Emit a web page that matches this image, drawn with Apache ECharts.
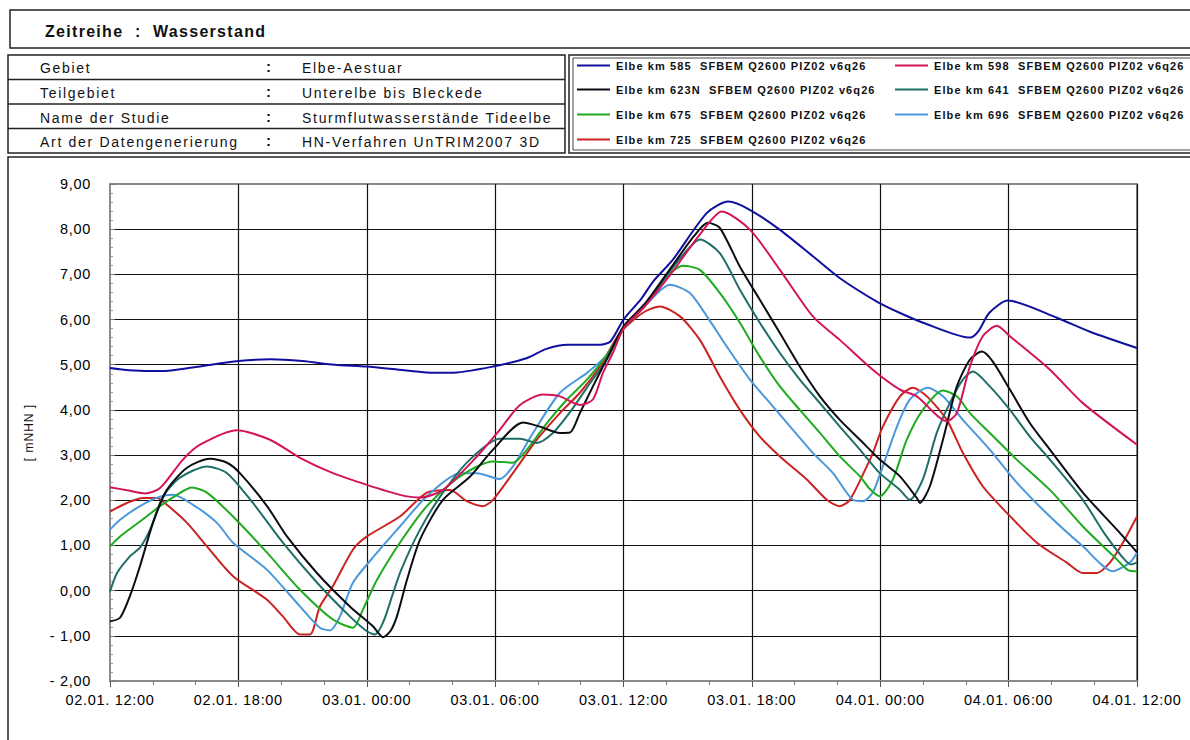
<!DOCTYPE html>
<html>
<head>
<meta charset="utf-8">
<script src="https://cdn.jsdelivr.net/npm/echarts@6/dist/echarts.min.js"></script>
<style>
html,body{margin:0;padding:0;background:#fff;}
#chart{width:1190px;height:740px;}
/* wider letter spacing like the original print */
#chart text[style*="14px"]{letter-spacing:1.7px;}
#chart text[style*="14.5px"]{letter-spacing:0.7px;}
#chart text[style*="11px"]{letter-spacing:1.1px;}
#chart text[style*="16px"]{letter-spacing:1.3px;}
#chart text[style*="12px"]{letter-spacing:1px;}
</style>
</head>
<body>
<div id="chart"></div>
<script>
// ---- data (hours after 02.01. 12:00, water level m NHN) ----
const xTickLabels = ['02.01. 12:00','02.01. 18:00','03.01. 00:00','03.01. 06:00','03.01. 12:00','03.01. 18:00','04.01. 00:00','04.01. 06:00','04.01. 12:00'];
const seriesNames = [
  'Elbe km 585  SFBEM Q2600 PIZ02 v6q26',
  'Elbe km 598  SFBEM Q2600 PIZ02 v6q26',
  'Elbe km 623N  SFBEM Q2600 PIZ02 v6q26',
  'Elbe km 641  SFBEM Q2600 PIZ02 v6q26',
  'Elbe km 675  SFBEM Q2600 PIZ02 v6q26',
  'Elbe km 696  SFBEM Q2600 PIZ02 v6q26',
  'Elbe km 725  SFBEM Q2600 PIZ02 v6q26'
];
const infoLabels = ['Gebiet','Teilgebiet','Name der Studie','Art der Datengenerierung'];
const infoValues = ['Elbe-Aestuar','Unterelbe bis Bleckede','Sturmflutwasserstände Tideelbe','HN-Verfahren UnTRIM2007 3D'];

const km585 = [[0,4.93],[0.9,4.88],[2.4,4.86],[4,4.95],[6,5.08],[7.5,5.12],[9,5.08],[10.5,5.0],[12,4.96],[13.5,4.89],[14.8,4.83],[15.9,4.82],[17.9,4.96],[19.5,5.15],[20.4,5.35],[21.4,5.44],[22.9,5.44],[23.4,5.52],[24,6.0],[24.8,6.44],[25.4,6.85],[26.3,7.32],[27.9,8.36],[28.9,8.61],[29.9,8.43],[31.3,7.99],[32.85,7.40],[34.1,6.92],[35.9,6.38],[36.9,6.15],[38,5.93],[40.2,5.60],[40.6,5.75],[41.1,6.15],[41.96,6.42],[44.25,6.04],[45.8,5.73],[48,5.37]];
const km598 = [[0,2.29],[0.8,2.22],[1.64,2.15],[2.34,2.27],[3.41,2.90],[4.21,3.23],[5.93,3.55],[7.48,3.34],[8.88,2.94],[10.42,2.60],[12.01,2.34],[13.55,2.12],[14.5,2.06],[15.56,2.23],[17.15,2.97],[18.22,3.56],[19.16,4.11],[20.23,4.34],[21.03,4.30],[21.96,4.11],[22.57,4.23],[23.04,4.82],[23.5,5.26],[24,5.8],[25,6.3],[26.2,7.0],[27.6,7.9],[28.6,8.39],[29.91,7.99],[31.31,7.10],[32.85,6.07],[34.11,5.55],[35.65,4.89],[36.92,4.45],[37.71,4.30],[39.11,3.75],[39.58,3.93],[40.19,4.96],[40.79,5.63],[41.45,5.86],[42.06,5.63],[43.93,4.89],[45.47,4.15],[48,3.23]];
const km623N = [[0,-0.68],[0.47,-0.60],[0.93,-0.12],[1.40,0.54],[2.01,1.50],[2.66,2.23],[3.60,2.72],[4.67,2.92],[5.47,2.83],[6.07,2.60],[7.34,1.87],[8.27,1.20],[9.67,0.39],[11.21,-0.35],[12.29,-0.79],[12.76,-1.03],[13.1,-0.9],[13.41,-0.57],[13.88,0.24],[14.49,1.13],[15.56,2.01],[16.82,2.52],[17.90,3.12],[19.30,3.72],[20.09,3.63],[21.03,3.49],[21.50,3.50],[21.96,3.93],[22.57,4.52],[23.36,5.26],[24,5.85],[25,6.35],[26.3,7.2],[27.3,7.85],[27.94,8.14],[28.50,8.03],[29.44,7.17],[30.37,6.44],[31.31,5.70],[32.24,4.96],[33.18,4.30],[34.11,3.78],[35.05,3.34],[35.98,2.90],[36.92,2.53],[37.71,2.05],[37.85,1.94],[38.32,2.31],[38.93,3.34],[39.58,4.52],[40.19,5.11],[40.75,5.29],[41.26,5.07],[42.06,4.45],[42.99,3.71],[43.93,3.12],[45.47,2.17],[47.06,1.35],[48,0.85]];
const km641 = [[0,-0.02],[0.33,0.39],[0.93,0.76],[1.40,0.95],[1.87,1.35],[2.48,2.09],[3.27,2.50],[4.53,2.75],[5.47,2.60],[6.68,1.94],[8.08,1.06],[9.67,0.18],[11.21,-0.57],[12.01,-0.90],[12.38,-0.97],[12.76,-0.71],[13.2,-0.1],[13.6,0.45],[14.49,1.35],[15.56,2.17],[16.82,2.90],[18.22,3.36],[19.16,3.36],[19.95,3.27],[20.70,3.49],[21.5,3.95],[22.3,4.5],[23.2,5.1],[24,5.8],[25,6.3],[26.3,7.15],[27.1,7.6],[27.57,7.77],[28.50,7.47],[29.44,6.66],[30.37,5.93],[31.31,5.26],[32.24,4.67],[33.18,4.15],[34.11,3.63],[35.05,3.12],[35.98,2.60],[36.92,2.23],[37.38,2.01],[37.99,2.46],[38.64,3.49],[39.25,4.15],[39.86,4.67],[40.33,4.85],[41.12,4.52],[42.06,4.00],[42.99,3.41],[43.93,2.90],[45.47,2.01],[46.5,1.25],[47.3,0.75],[47.7,0.58],[48,0.62]];
const km675 = [[0,0.98],[0.47,1.20],[1.40,1.53],[2.34,1.87],[3.13,2.12],[3.83,2.28],[4.53,2.17],[5.75,1.64],[7.34,0.84],[8.88,0.02],[10.42,-0.64],[11.36,-0.82],[11.82,-0.42],[12.48,0.24],[13.55,1.06],[14.81,1.87],[16.36,2.53],[17.90,2.86],[18.83,2.83],[19.49,3.12],[20.42,3.71],[21.36,4.23],[22.29,4.67],[23.2,5.2],[24,5.8],[25,6.3],[26,6.95],[26.78,7.19],[27.57,7.10],[28.50,6.59],[29.44,5.93],[30.37,5.18],[31.31,4.52],[32.24,4.00],[33.18,3.49],[34.11,2.97],[35.05,2.53],[35.51,2.25],[35.98,2.09],[36.59,2.46],[37.24,3.34],[37.99,4.00],[38.93,4.43],[39.58,4.30],[40.19,3.93],[41.12,3.49],[42.38,2.90],[43.93,2.23],[45.47,1.42],[47.06,0.69],[47.6,0.45],[48,0.43]];
const km696 = [[0,1.35],[0.47,1.57],[1.40,1.87],[2.34,2.08],[2.94,2.12],[3.88,1.90],[5.0,1.50],[5.75,1.06],[7.34,0.46],[8.88,-0.35],[9.81,-0.82],[10.28,-0.88],[10.75,-0.57],[11.36,0.18],[12.48,0.84],[13.55,1.42],[14.81,2.09],[16.36,2.60],[17.15,2.60],[18.22,2.47],[18.83,2.75],[19.77,3.49],[21.03,4.38],[22.29,4.82],[23.2,5.2],[24,5.8],[25,6.3],[26.17,6.77],[27.10,6.59],[27.90,6.07],[28.83,5.40],[29.91,4.67],[30.98,4.08],[31.92,3.56],[32.85,3.05],[33.79,2.60],[34.72,2.01],[35.19,1.98],[35.65,2.17],[36.12,2.75],[36.78,3.63],[37.38,4.23],[38.22,4.49],[38.93,4.30],[39.86,3.78],[41.12,3.12],[42.38,2.39],[43.93,1.64],[45.47,0.98],[46.87,0.43],[47.66,0.62],[48,0.84]];
const km725 = [[0,1.75],[0.79,1.94],[1.54,2.05],[2.20,2.05],[2.66,1.90],[3.60,1.50],[4.53,0.98],[5.75,0.32],[7.34,-0.20],[8.08,-0.57],[8.88,-0.97],[9.35,-0.97],[9.81,-0.35],[10.42,0.10],[11.36,0.91],[12.01,1.20],[13.55,1.64],[14.81,2.17],[15.89,2.23],[16.68,1.98],[17.43,1.87],[17.90,2.01],[18.83,2.60],[19.95,3.34],[21.03,3.93],[21.96,4.38],[22.90,4.96],[23.83,5.70],[24.91,6.15],[25.70,6.29],[26.64,6.07],[27.57,5.55],[28.50,4.74],[29.44,4.00],[30.37,3.41],[31.31,2.97],[32.57,2.46],[33.50,2.01],[34.11,1.87],[34.58,2.01],[35.37,2.75],[35.7,3.1],[36.12,3.63],[36.92,4.30],[37.52,4.49],[38.18,4.30],[39.11,3.78],[39.86,3.05],[40.79,2.31],[41.92,1.72],[43.32,1.06],[44.72,0.62],[45.47,0.39],[46.12,0.39],[46.73,0.62],[47.34,1.06],[48,1.64]];

const seriesData = [km585, km598, km623N, km641, km675, km696, km725];
const colors = ['#1010a0','#d4145a','#0c0c14','#1f6e68','#1faa1f','#4a98dc','#cc2222'];

const FONT = '"Liberation Sans", Arial, sans-serif';
const chart = echarts.init(document.getElementById('chart'), null, {renderer:'svg'});

// legend positions (col, row)
const legendPos = [[577,67],[895,67],[577,91],[895,91],[577,116],[895,116],[577,141]];
const legends = seriesNames.map((n,i)=>({
  data:[n], left: legendPos[i][0], top: legendPos[i][1]-7, padding:0,
  icon:'rect', itemWidth:33, itemHeight:2, itemGap:0,
  textStyle:{fontFamily:FONT, fontSize:11, fontWeight:'bold', color:'#111', padding:[0,0,0,1]},
  selectedMode:false
}));

const rowY = [69,94,119,143];
const graphics = [
  {type:'rect', shape:{x:10,y:10,width:1190,height:38}, style:{fill:'none', stroke:'#222', lineWidth:1.5}, silent:true},
  {type:'rect', shape:{x:8,y:55,width:557,height:98}, style:{fill:'none', stroke:'#222', lineWidth:1.5}, silent:true},
  {type:'line', shape:{x1:8,y1:79.5,x2:565,y2:79.5}, style:{stroke:'#222', lineWidth:1.5}, silent:true},
  {type:'line', shape:{x1:8,y1:104,x2:565,y2:104}, style:{stroke:'#222', lineWidth:1.5}, silent:true},
  {type:'line', shape:{x1:8,y1:128.5,x2:565,y2:128.5}, style:{stroke:'#222', lineWidth:1.5}, silent:true},
  {type:'rect', shape:{x:569,y:55,width:630,height:98}, style:{fill:'none', stroke:'#222', lineWidth:1.5}, silent:true},
  {type:'rect', shape:{x:573,y:58,width:630,height:92}, style:{fill:'none', stroke:'#444', lineWidth:1}, silent:true},
  {type:'rect', shape:{x:8,y:157,width:1200,height:600}, style:{fill:'none', stroke:'#222', lineWidth:1.5}, silent:true}
];
infoLabels.forEach((t,i)=>{
  graphics.push({type:'text', left:40, top:rowY[i]-8, style:{text:t, fontFamily:FONT, fontSize:14, fill:'#111'}, silent:true});
  graphics.push({type:'text', left:266, top:rowY[i]-10, style:{text:':', fontFamily:FONT, fontSize:15, fontWeight:'bold', fill:'#111'}, silent:true});
  graphics.push({type:'text', left:302, top:rowY[i]-8, style:{text:infoValues[i], fontFamily:FONT, fontSize:14, fill:'#111'}, silent:true});
});

const option = {
  backgroundColor:'#fff',
  animation:false,
  color: colors,
  title:{text:'Zeitreihe  :  Wasserstand', left:45, top:23, padding:0,
    textStyle:{fontFamily:FONT, fontSize:16, fontWeight:'bold', color:'#111'}},
  legend: legends,
  graphic: graphics,
  grid:{left:110, right:53, top:184, bottom:59, show:true, borderColor:'#8a8a8a', borderWidth:2, backgroundColor:'transparent'},
  xAxis:{
    type:'value', min:0, max:48, interval:6,
    axisLine:{show:true, onZero:false, lineStyle:{color:'#8a8a8a', width:2}},
    axisTick:{show:true, inside:false, length:6, lineStyle:{color:'#555'}},
    minorTick:{show:true, splitNumber:3, length:4, lineStyle:{color:'#777'}},
    splitLine:{show:true, showMinLine:false, lineStyle:{color:'#111', width:1.2}},
    axisLabel:{margin:11, fontFamily:FONT, fontSize:14.5, color:'#000',
      formatter:(v)=> xTickLabels[Math.round(v/6)] || ''}
  },
  yAxis:{
    type:'value', min:-2, max:9, interval:1,
    name:'[ mNHN ]', nameLocation:'middle', nameGap:75, nameRotate:90,
    nameTextStyle:{fontFamily:FONT, fontSize:12, color:'#111'},
    axisLine:{show:true, onZero:false, lineStyle:{color:'#8a8a8a', width:2}},
    axisTick:{show:true, inside:true, length:5, lineStyle:{color:'#777'}},
    minorTick:{show:true, splitNumber:5, length:3, lineStyle:{color:'#999'}},
    splitLine:{show:true, showMaxLine:false, lineStyle:{color:'#111', width:1.2}},
    axisLabel:{margin:19, fontFamily:FONT, fontSize:14.5, color:'#000',
      formatter:(v)=>{ const s=Math.abs(v).toFixed(2).replace('.',','); return v<0 ? '- '+s : s; }}
  },
  series: seriesNames.map((n,i)=>({
    name:n, type:'line', data:seriesData[i], showSymbol:false, symbol:'none',
    smooth:0.25,
    lineStyle:{width:2, color:colors[i]}, itemStyle:{color:colors[i]},
    z: 10 - i
  }))
};
chart.setOption(option);
</script>
</body>
</html>
